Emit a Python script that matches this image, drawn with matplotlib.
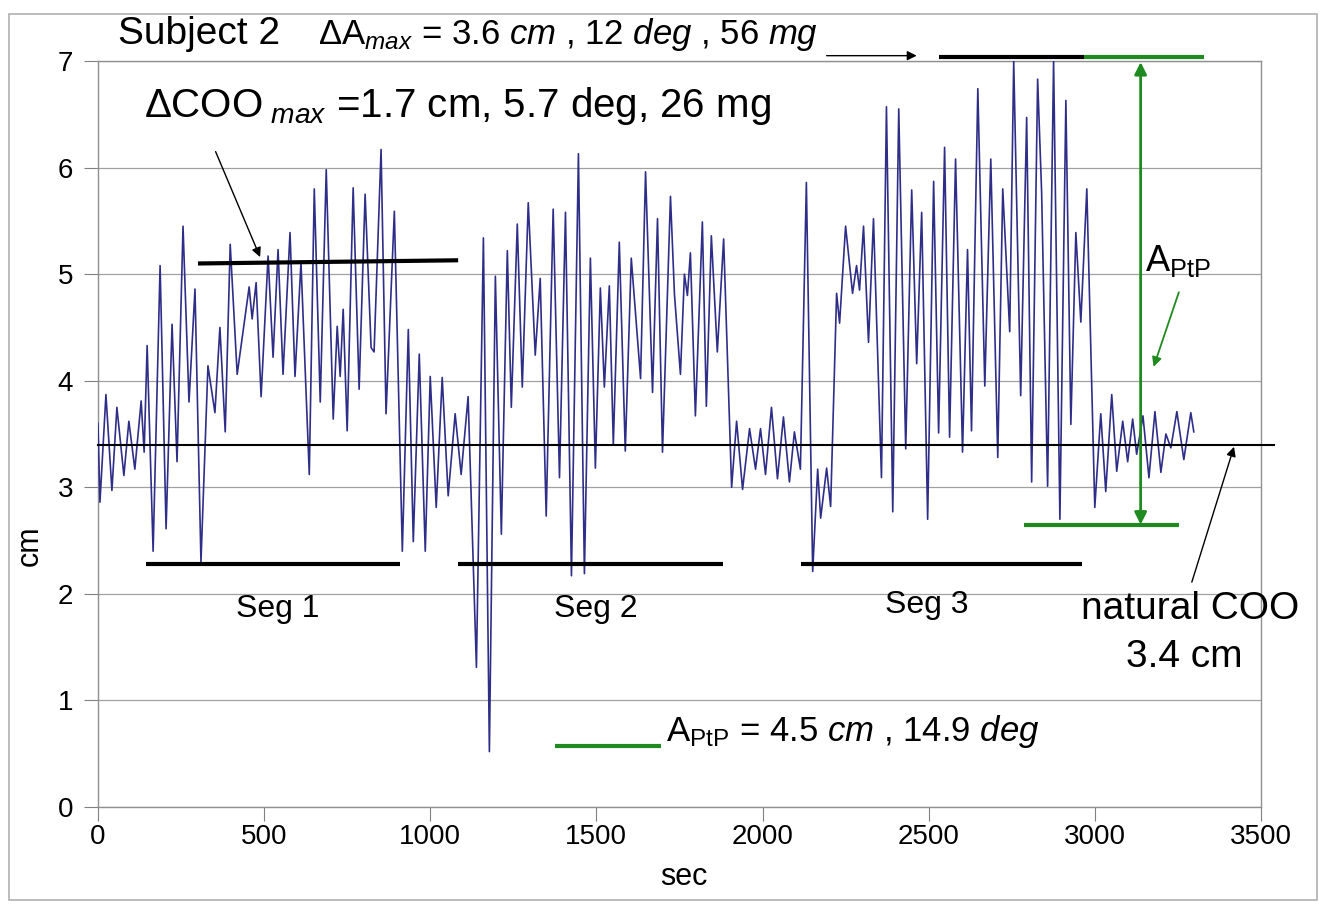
import matplotlib
matplotlib.use('Agg')
import matplotlib.pyplot as plt
from matplotlib.patches import Rectangle

plt.rcParams['font.family'] = ['Liberation Sans', 'DejaVu Sans']
plt.rcParams['mathtext.fontset'] = 'custom'
plt.rcParams['mathtext.rm'] = 'Liberation Sans'
plt.rcParams['mathtext.it'] = 'Liberation Sans:italic'
plt.rcParams['mathtext.bf'] = 'Liberation Sans:bold'

# signal: peaks / troughs (sec, cm)
t_sec = [0, 6, 24, 42, 57, 78, 93, 111, 130, 139, 148, 166, 187, 205, 223, 238, 256, 274, 292, 310,
         331, 352, 367, 383, 398, 419, 455, 464, 476, 491, 512, 527, 542, 557, 578,
         593, 611, 636, 651, 669, 687, 708, 720, 729, 738, 750, 768, 786, 804, 822, 831,
         852, 867, 892, 916, 934, 949, 967, 985, 1000, 1018, 1036, 1054, 1075, 1093, 1114,
         1139, 1160, 1178, 1196, 1214, 1232, 1244, 1262, 1277, 1295, 1316, 1331, 1349, 1370,
         1389, 1407, 1425, 1446, 1464, 1482, 1497, 1512, 1524, 1539, 1551, 1569, 1587, 1605,
         1633, 1648, 1669, 1684, 1699, 1723, 1735, 1753, 1765, 1774, 1783, 1798, 1819, 1831,
         1846, 1864, 1883, 1907, 1922, 1940, 1961, 1979, 1994, 2009, 2027, 2045, 2063, 2081,
         2096, 2114, 2132, 2151, 2166, 2175, 2193, 2205,
         2223, 2232, 2250, 2271, 2283, 2292, 2304, 2319, 2334, 2358, 2373, 2392, 2410, 2431,
         2449, 2464, 2479, 2497, 2515, 2530, 2548, 2563, 2581, 2602, 2617, 2629, 2648,
         2669, 2687, 2708, 2723, 2744, 2756, 2777, 2795, 2810, 2828, 2840, 2858, 2876, 2895,
         2913, 2928, 2943, 2958, 2976, 3000, 3018, 3033, 3051, 3066, 3084, 3099, 3114, 3126,
         3145, 3163, 3181, 3199, 3214, 3229, 3247, 3268, 3289, 3298]
cm = [3.6, 2.86, 3.87, 2.97, 3.75, 3.11, 3.62, 3.17, 3.81, 3.33, 4.33, 2.40, 5.08, 2.61, 4.53, 3.24, 5.45, 3.80, 4.86, 2.30,
      4.14, 3.70, 4.50, 3.52, 5.28, 4.06, 4.88, 4.58, 4.92, 3.85, 5.17, 4.22, 5.23, 4.06, 5.39,
      4.04, 5.11, 3.12, 5.80, 3.80, 5.98, 3.64, 4.51, 4.04, 4.67, 3.53, 5.81, 3.92, 5.75, 4.31, 4.27,
      6.17, 3.69, 5.59, 2.40, 4.48, 2.49, 4.25, 2.40, 4.04, 2.81, 4.03, 2.92, 3.69, 3.12, 3.85,
      1.31, 5.34, 0.52, 4.98, 2.56, 5.22, 3.75, 5.47, 3.94, 5.67, 4.24, 4.96, 2.73, 5.61,
      3.09, 5.58, 2.17, 6.13, 2.19, 5.15, 3.18, 4.87, 3.94, 4.89, 3.40, 5.30, 3.34, 5.15,
      4.02, 5.96, 3.89, 5.52, 3.33, 5.73, 4.81, 4.06, 5.00, 4.80, 5.20, 3.67, 5.49, 3.76,
      5.36, 4.27, 5.33, 3.00, 3.62, 2.98, 3.55, 3.17, 3.55, 3.12, 3.75, 3.08, 3.66, 3.05,
      3.52, 3.17, 5.86, 2.21, 3.17, 2.71, 3.18, 2.82,
      4.82, 4.54, 5.45, 4.82, 5.08, 4.85, 5.45, 4.36, 5.52, 3.09, 6.57, 2.77, 6.55, 3.36,
      5.79, 4.16, 5.58, 2.70, 5.87, 3.51, 6.19, 3.47, 6.08, 3.33, 5.23, 3.53, 6.74,
      3.95, 6.08, 3.28, 5.80, 4.46, 7.0, 3.86, 6.47, 3.05, 6.83, 5.77, 3.01, 7.0, 2.70,
      6.63, 3.59, 5.39, 4.55, 5.80, 2.81, 3.69, 2.96, 3.87, 3.15, 3.62, 3.24, 3.64, 3.31,
      3.67, 3.09, 3.71, 3.14, 3.50, 3.37, 3.71, 3.26, 3.70, 3.52]

natural_coo = 3.4
seg_level = 2.28
seg_start = [145, 1084, 2117]
seg_end = [910, 1880, 2961]
seg_names = ['Seg 1', 'Seg 2', 'Seg 3']
seg_label_x = [542, 1497, 2494]
seg_label_y = [1.86, 1.86, 1.90]
coo_max_x = [301, 1084]
coo_max_y = [5.10, 5.13]
a_max_black_x = [2530, 2967]
a_max_green_x = [2967, 3328]
a_max_level = 7.04
ptp_x = 3138
ptp_low = 2.65
ptp_low_x = [2786, 3253]

fig = plt.figure(figsize=(13.22, 9.05), dpi=100)
ax = fig.add_axes([0.0741, 0.1083, 0.8797, 0.8243])
fig.patches.append(Rectangle((0.007, 0.006), 0.989, 0.978, transform=fig.transFigure,
                             fill=False, edgecolor='#b0b0b0', lw=1.2))

ax.plot(t_sec, cm, color='#2e2e88', lw=1.2, zorder=3)

# natural COO line
ax.plot([0, 3540], [natural_coo, natural_coo], color='black', lw=1.5, clip_on=False, zorder=4)

# segment bars
for s, e, n, lx, ly in zip(seg_start, seg_end, seg_names, seg_label_x, seg_label_y):
    ax.plot([s, e], [seg_level, seg_level], color='black', lw=3, solid_capstyle='butt', zorder=4)
    ax.text(lx, ly, n, fontsize=23, ha='center', va='center')

ax.plot(coo_max_x, coo_max_y, color='black', lw=3, solid_capstyle='butt', zorder=4)
ax.plot(a_max_black_x, [a_max_level] * 2, color='black', lw=3, solid_capstyle='butt',
        clip_on=False, zorder=4)
ax.plot(a_max_green_x, [a_max_level] * 2, color='#1f8a1f', lw=3, solid_capstyle='butt',
        clip_on=False, zorder=4)
ax.plot(ptp_low_x, [ptp_low] * 2, color='#1f8a1f', lw=3, solid_capstyle='butt', zorder=4)
ax.annotate('', xy=(ptp_x, a_max_level - 0.05), xytext=(ptp_x, ptp_low),
            arrowprops=dict(arrowstyle='<|-|>', color='#1f8a1f', lw=2, mutation_scale=18,
                            shrinkA=0, shrinkB=0), zorder=5)
ax.annotate('', xy=(3177, 4.13), xytext=(3253, 4.83),
            arrowprops=dict(arrowstyle='-|>', color='#1f8a1f', lw=1.3, mutation_scale=14,
                            shrinkA=0, shrinkB=0))
ax.text(3150, 5.12, r'A$_{\mathrm{PtP}}$', fontsize=26, ha='left', va='center')

# top annotations
ax.text(60, 7.16, 'Subject 2', fontsize=28, ha='left', va='baseline', clip_on=False)
ax.text(663, 7.16, r'$\Delta$A$_{max}$ = 3.6 $cm$ , 12 $deg$ , 56 $mg$', fontsize=25,
        ha='left', va='baseline', clip_on=False)
ax.annotate('', xy=(2464, 7.05), xytext=(2193, 7.05),
            arrowprops=dict(arrowstyle='-|>', color='black', lw=1, mutation_scale=14,
                            shrinkA=0, shrinkB=0), annotation_clip=False)
ax.text(139, 6.47, r'$\Delta$COO$_{\ max}$ =1.7 cm, 5.7 deg, 26 mg', fontsize=29,
        ha='left', va='baseline')
ax.annotate('', xy=(488, 5.16), xytext=(354, 6.15),
            arrowprops=dict(arrowstyle='-|>', color='black', lw=1, mutation_scale=14,
                            shrinkA=0, shrinkB=0))

# natural COO label
ax.annotate('', xy=(3419, 3.38), xytext=(3292, 2.11),
            arrowprops=dict(arrowstyle='-|>', color='black', lw=1, mutation_scale=14,
                            shrinkA=0, shrinkB=0), annotation_clip=False)
ax.text(3614, 1.86, 'natural COO', fontsize=28, ha='right', va='center', clip_on=False)
ax.text(3268, 1.41, '3.4 cm', fontsize=28, ha='center', va='center', clip_on=False)

# A_PtP legend line
ax.plot([1376, 1693], [0.57, 0.57], color='#1f8a1f', lw=3, solid_capstyle='butt')
ax.text(1711, 0.71, r'A$_{\mathrm{PtP}}$ = 4.5 $cm$ , 14.9 $deg$', fontsize=25,
        ha='left', va='center')

ax.set_xlim(0, 3500)
ax.set_ylim(0, 7)
ax.set_xticks(range(0, 3501, 500))
ax.set_yticks(range(0, 8))
ax.tick_params(labelsize=20, length=10, color='#808080')
ax.tick_params(axis='x', pad=2)
ax.tick_params(axis='y', pad=8)
ax.yaxis.grid(True, color='#a0a0a0', lw=0.9)
ax.set_axisbelow(True)
for sp in ax.spines.values():
    sp.set_color('#909090')
    sp.set_linewidth(1)
ax.set_ylabel('cm', fontsize=22)
ax.yaxis.set_label_coords(-0.046, 0.35)
ax.text(1762, -0.66, 'sec', fontsize=22, ha='center', va='center', clip_on=False)

fig.savefig('out.png', dpi=100)
